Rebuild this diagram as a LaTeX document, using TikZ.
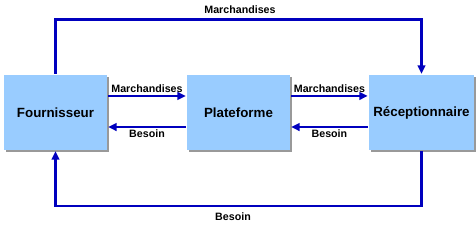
\documentclass[tikz,border=0pt]{standalone}
\usepackage{fontspec}
\setmainfont{Liberation Sans}
\usetikzlibrary{arrows.meta,shadows}
\definecolor{boite}{RGB}{153,204,255}
\definecolor{fleche}{RGB}{0,0,190}

\begin{document}
\begin{tikzpicture}[x=0.75pt,y=-0.75pt,line width=1.8pt,>={Triangle[length=2.2mm,width=2mm]},
  acteur/.style={draw=none,fill=boite,minimum width=77.25pt,minimum height=56.25pt,
    font=\fontsize{10}{12}\selectfont\bfseries,
    drop shadow={shadow xshift=1.5pt,shadow yshift=-1.5pt,fill=gray!80,opacity=1}},
  flux/.style={->,draw=fleche},
  etiq/.style={font=\fontsize{8}{10}\selectfont\bfseries,inner sep=1.5pt}]
  \useasboundingbox (0,0) rectangle (476,232);
  % acteurs
  \node[acteur] (F) at (55.5,112.5) {Fournisseur};
  \node[acteur] (P) at (238.5,112.5) {Plateforme};
  \node[acteur] (R) at (421.5,112.5) {Réceptionnaire};
  % coins des flux directs
  \coordinate (haut) at (240,19.5);
  \coordinate (bas) at (233,206);
  % flux directs fournisseur - receptionnaire
  \draw[flux] (F.north) |- (haut) -| (R.north);
  \node[etiq,above,yshift=2pt] at (haut) {Marchandises};
  \draw[flux] (R.south) |- (bas) -| (F.south);
  \node[etiq,below,yshift=-3pt] at (bas) {Besoin};
  % flux via la plateforme
  \draw[flux] ([yshift=12.4pt]F.east) -- node[etiq,above]{Marchandises} ([yshift=12.4pt]P.west);
  \draw[flux] ([yshift=-10.9pt]P.west) -- node[etiq,below]{Besoin} ([yshift=-10.9pt]F.east);
  \draw[flux] ([yshift=12.4pt]P.east) -- node[etiq,above]{Marchandises} ([yshift=12.4pt]R.west);
  \draw[flux] ([yshift=-10.9pt]R.west) -- node[etiq,below]{Besoin} ([yshift=-10.9pt]P.east);
\end{tikzpicture}
\end{document}
